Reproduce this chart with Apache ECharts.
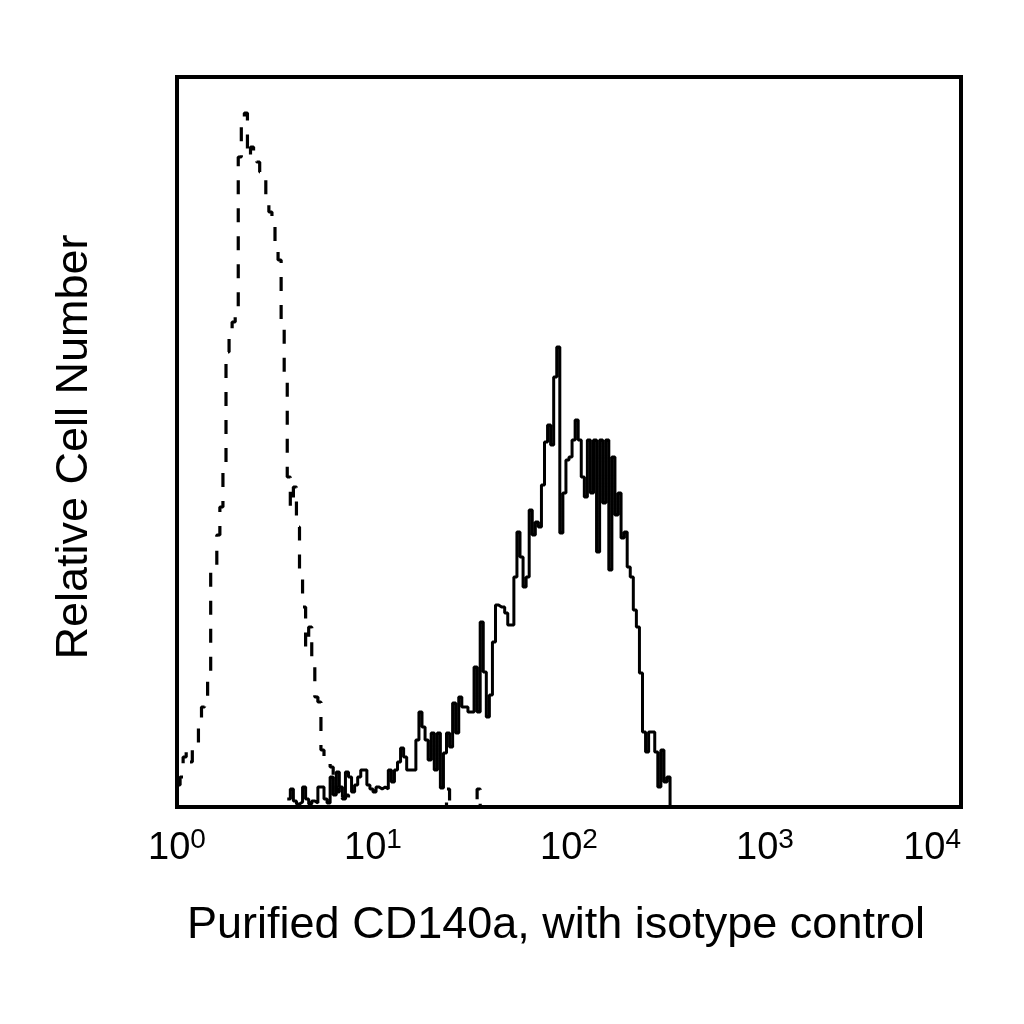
<!DOCTYPE html>
<html>
<head>
<meta charset="utf-8">
<title>CD140a</title>
<script src="https://cdn.jsdelivr.net/npm/echarts@6/dist/echarts.min.js"></script>
<style>
html,body{margin:0;padding:0;background:#fff}
#main{width:1024px;height:1024px}
</style>
</head>
<body>
<div id="main"></div>
<script>
//每个十倍程的通道数
var channelsPerDecade = 64

//同型对照 虚线 从第0通道开始
var isoStart = 0
var isoCounts = [22, 30, 50, 55, 45, 57, 60, 85, 100, 110, 130, 235, 240, 272, 300, 340, 455, 470, 485, 500, 650, 680, 694,
    650, 660, 655, 645, 635, 630, 610, 595, 580, 565, 547, 480, 430, 330, 300, 320, 280, 230, 200, 160, 180, 140, 110, 105,
    57, 50, 45, 40, 25, 15, 20, 8, 12, 5, 0,
    0, 0, 0, 0, 0, 0, 0, 0, 0, 0, 0, 0, 0, 0, 0, 0, 0, 0, 0, 0, 0, 0, 0, 0, 0, 0, 0, 0, 0, 0,
    18, 5, 0, 0, 0, 0, 0, 0, 0, 0, 18, 0]

//CD140a 实线 从第36通道开始
var cdStart = 36
var cdCounts = [8, 18, 6, 3, 5, 20, 8, 3, 6, 4, 20, 20, 8, 4, 30, 12, 35, 20, 10, 35, 30, 15, 22, 30, 37, 37, 22, 18, 15, 20,
    18, 20, 18, 37, 25, 37, 45, 59, 50, 37, 37, 37, 67, 95, 80, 67, 47, 74, 37, 74, 19, 54, 74, 60, 104, 74, 110, 100, 100, 95,
    95, 140, 95, 185, 135, 90, 112, 165, 202, 200, 200, 194, 182, 182, 230, 275, 250, 220, 230, 297, 272, 285, 280, 322, 365, 382,
    362, 430, 460, 274, 314, 347, 350, 367, 387, 367, 330, 310, 367, 314, 367, 255, 367, 304, 367, 237, 350, 292, 314, 269, 275,
    240, 230, 197, 180, 134, 75, 55, 75, 75, 55, 20, 57, 25, 30, 0]

//横轴刻度
var xTicks = [1, 10, 100, 1000, 10000]
var xTitle = 'Purified CD140a, with isotype control'
var yTitle = 'Relative Cell Number'

//通道号换成荧光值
function toSeries (start, counts) {
    var arr = []
    for (var i = 0; i < counts.length; i++) {
        arr.push([Math.pow(10, (start + i) / channelsPerDecade), counts[i]])
    }
    return arr
}

var mainDom = document.getElementById("main")
var histChart = echarts.init(mainDom)

var option = {
    animation: false,
    backgroundColor: '#fff',
    grid: {
        left: 177, right: 63, top: 77, bottom: 217,
        show: true, borderColor: '#000', borderWidth: 4, backgroundColor: 'transparent'
    },
    xAxis: {
        type: 'log', logBase: 10, min: 1, max: 10000,
        axisLine: { show: false }, axisTick: { show: false }, splitLine: { show: false },
        axisLabel: {
            customValues: xTicks,
            margin: 19,
            alignMaxLabel: 'right',
            fontSize: 38,
            color: '#000',
            fontFamily: 'Liberation Sans',
            formatter: function (v) {
                return '{b|10}{s|' + Math.round(Math.log10(v)) + '}'
            },
            rich: {
                b: { fontSize: 38, lineHeight: 46, color: '#000', fontFamily: 'Liberation Sans' },
                s: { fontSize: 28, lineHeight: 21, verticalAlign: 'top', color: '#000', fontFamily: 'Liberation Sans' }
            }
        },
        name: xTitle, nameLocation: 'middle', nameGap: 96,
        nameTextStyle: { fontSize: 45, color: '#000', fontFamily: 'Liberation Sans', padding: [0, 26, 0, 0] }
    },
    yAxis: {
        type: 'value', min: 0, max: 730,
        axisLine: { show: false }, axisTick: { show: false }, splitLine: { show: false },
        axisLabel: { show: false },
        name: yTitle, nameLocation: 'middle', nameGap: 80,
        nameTextStyle: { fontSize: 45, color: '#000', fontFamily: 'Liberation Sans', padding: [0, 10, 0, 0] }
    },
    series: [
        {
            name: 'isotype', type: 'line', step: 'end', showSymbol: false, symbol: 'none',
            data: toSeries(isoStart, isoCounts),
            lineStyle: { color: '#000', width: 3.2, type: [14, 14] }
        },
        {
            name: 'CD140a', type: 'line', step: 'end', showSymbol: false, symbol: 'none',
            data: toSeries(cdStart, cdCounts),
            lineStyle: { color: '#000', width: 3 }
        }
    ]
}
histChart.setOption(option)
</script>
</body>
</html>
